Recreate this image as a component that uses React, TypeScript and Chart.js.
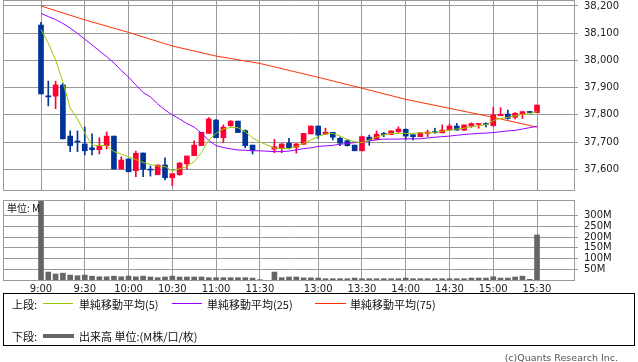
import React, { useEffect, useRef } from "react";
import { Chart, registerables } from "chart.js";

Chart.register(...registerables);

// ---- data ----
const times = [
  "9:00", "9:05", "9:10", "9:15", "9:20", "9:25", "9:30", "9:35", "9:40", "9:45", "9:50", "9:55",
  "10:00", "10:05", "10:10", "10:15", "10:20", "10:25", "10:30", "10:35", "10:40", "10:45", "10:50", "10:55",
  "11:00", "11:05", "11:10", "11:15", "11:20", "11:25", "11:30",
  "12:30", "12:35", "12:40", "12:45", "12:50", "12:55",
  "13:00", "13:05", "13:10", "13:15", "13:20", "13:25", "13:30", "13:35", "13:40", "13:45", "13:50", "13:55",
  "14:00", "14:05", "14:10", "14:15", "14:20", "14:25", "14:30", "14:35", "14:40", "14:45", "14:50", "14:55",
  "15:00", "15:05", "15:10", "15:15", "15:20", "15:25", "15:30",
];

const openP = [
  38130, 37870, 37869, 37910, 37722, 37704, 37693, 37679, 37672, 37687, 37722, 37601,
  37638, 37595, 37660, 37600, 37580, 37616, 37569, 37580, 37620, 37650, 37687, 37732,
  37781, 37716, 37760, 37777, 37742, 37689, null,
  37674, 37677, 37696, 37681, 37692, 37730,
  37759, 37729, 37736, 37714, 37705, 37689, 37668, 37718, 37710, 37730, 37728, 37738,
  37747, 37727, 37720, 37732, 37738, 37734, 37744, 37759, 37744, 37759, 37765, 37767,
  37760, 37797, 37803, 37791, 37802, 37811, 37808,
];
const closeP = [
  37877, 37866, 37910, 37712, 37687, 37700, 37668, 37672, 37687, 37722, 37601, 37634,
  37591, 37659, 37600, 37597, 37616, 37569, 37584, 37623, 37649, 37689, 37736, 37785,
  37716, 37755, 37777, 37735, 37687, 37670, null,
  37683, 37693, 37679, 37693, 37732, 37759,
  37726, 37736, 37718, 37696, 37687, 37668, 37720, 37708, 37729, 37728, 37741, 37748,
  37722, 37720, 37734, 37737, 37735, 37744, 37759, 37744, 37763, 37768, 37767, 37765,
  37800, 37802, 37787, 37806, 37812, 37809, 37836,
];
const highP = [
  38140, 37924, 37924, 37916, 37741, 37741, 37755, 37730, 37716, 37737, 37722, 37646,
  37638, 37667, 37660, 37612, 37616, 37642, 37584, 37625, 37649, 37705, 37736, 37790,
  37783, 37763, 37779, 37777, 37745, 37689, null,
  37710, 37695, 37714, 37695, 37732, 37759,
  37759, 37751, 37736, 37718, 37710, 37689, 37722, 37726, 37741, 37736, 37741, 37756,
  37749, 37727, 37736, 37744, 37751, 37763, 37766, 37769, 37763, 37771, 37767, 37771,
  37828, 37826, 37818, 37808, 37812, 37812, 37836,
];
const lowP = [
  37877, 37833, 37823, 37712, 37665, 37665, 37653, 37653, 37656, 37675, 37601, 37601,
  37591, 37573, 37573, 37575, 37580, 37561, 37540, 37578, 37601, 37650, 37687, 37732,
  37716, 37698, 37758, 37735, 37679, 37656, null,
  37661, 37661, 37675, 37659, 37692, 37730,
  37714, 37729, 37708, 37687, 37685, 37668, 37668, 37688, 37710, 37720, 37728, 37735,
  37708, 37708, 37720, 37720, 37732, 37734, 37744, 37744, 37742, 37754, 37751, 37756,
  37759, 37797, 37784, 37785, 37787, 37808, 37808,
];

const ma5 = [
  38114, 38063, 38002, 37921, 37825, 37785, 37733, 37689, 37687, 37687, 37665, 37656,
  37646, 37636, 37625, 37618, 37612, 37610, 37594, 37602, 37610, 37628, 37661, 37708,
  37732, 37748, 37754, 37753, 37738, 37716, 37701,
  37678, 37676, 37676, 37683, 37696, 37708,
  37720, 37730, 37732, 37722, 37710, 37701, 37698, 37708, 37718, 37727, 37732, 37732,
  37732, 37732, 37734, 37734, 37736, 37740, 37744, 37748, 37751, 37757, 37759, 37764,
  37779, 37787, 37791, 37796, 37802, 37804, 37812,
];
const ma25 = [
  38173, 38161, 38150, 38136, 38119, 38099, 38078, 38057, 38035, 38014, 37991, 37963,
  37939, 37910, 37882, 37866, 37840, 37818, 37800, 37785, 37768, 37755, 37733, 37706,
  37687, 37680, 37675, 37671, 37670, 37668, 37668,
  37665, 37665, 37667, 37671, 37676, 37679,
  37684, 37686, 37688, 37692, 37695, 37698, 37700, 37705, 37708, 37711, 37711, 37711,
  37712, 37712, 37712, 37715, 37718, 37720, 37722, 37725, 37728, 37730, 37732, 37733,
  37735, 37738, 37741, 37743, 37748, 37753, 37758,
];
const ma75Times = ["9:00", "9:30", "10:00", "10:30", "11:00", "11:30", "13:00", "13:30", "14:00", "14:30", "15:00", "15:30"];
const ma75 = [38200, 38149, 38103, 38053, 38016, 37989, 37938, 37898, 37857, 37824, 37791, 37755];

const volume = [
  380, 37, 28, 32, 23, 20, 23, 18, 15, 15, 18, 15,
  18, 15, 18, 14, 11, 14, 18, 14, 14, 14, 14, 11,
  11, 11, 11, 11, 11, 9, 1.5,
  37, 11, 14, 14, 10, 10,
  9, 6, 6, 6, 6, 9, 6, 6, 6, 6, 6, 6,
  9, 6, 6, 6, 6, 6, 6, 6, 6, 9, 9, 9,
  15, 9, 9, 14, 18, 3, 210,
];

const xTickTimes = ["9:00", "9:30", "10:00", "10:30", "11:00", "11:30", "13:00", "13:30", "14:00", "14:30", "15:00", "15:30"];
const priceTicks = [37600, 37700, 37800, 37900, 38000, 38100, 38200];
const volumeTicks = [50, 100, 150, 200, 250, 300];

// ---- styling ----
const UP = "#ff0033";
const DOWN = "#003399";
const GRID = "#999999";
const AXIS_FONT = "'DejaVu Sans', sans-serif";
const JP_FONT = "'Noto Sans CJK JP', 'DejaVu Sans', sans-serif";
const X_MIN = -5.21;
const X_MAX = 73.07;

function slotOf(t: string): number {
  const [h, m] = t.split(":").map(Number);
  const mins = h * 60 + m;
  return mins <= 690 ? (mins - 540) / 5 : 32 + (mins - 750) / 5;
}

function noPad(s: any) {
  s.paddingTop = 0;
  s.paddingBottom = 0;
  s.paddingLeft = 0;
  s.paddingRight = 0;
}

const framePlugin = {
  id: "frame",
  afterDraw(chart: any) {
    const { ctx, chartArea } = chart;
    const l = Math.round(chartArea.left);
    const r = Math.round(chartArea.right);
    const t = Math.round(chartArea.top);
    const b = Math.round(chartArea.bottom);
    ctx.save();
    ctx.strokeStyle = GRID;
    ctx.lineWidth = 1;
    ctx.strokeRect(l + 0.5, t + 0.5, r - l, b - t);
    ctx.restore();
  },
};

function xScale(showLabels: boolean) {
  return {
    type: "linear",
    min: X_MIN,
    max: X_MAX,
    offset: false,
    afterBuildTicks: (s: any) => {
      s.ticks = xTickTimes.map((t) => ({ value: slotOf(t) }));
    },
    afterFit: (s: any) => {
      s.height = showLabels ? 15 : 0;
      noPad(s);
    },
    ticks: {
      display: showLabels,
      autoSkip: false,
      maxRotation: 0,
      padding: 3,
      color: "#222",
      font: { family: AXIS_FONT, size: 10 },
      callback: (_v: any, i: number) => xTickTimes[i],
    },
    grid: { color: GRID, drawTicks: false, offset: false, lineWidth: 1 },
    border: { display: false },
  };
}

function yScale(min: number, max: number, ticks: number[], fmt: (v: number) => string) {
  return {
    type: "linear",
    position: "right",
    min,
    max,
    afterBuildTicks: (s: any) => {
      s.ticks = ticks.map((v) => ({ value: v }));
    },
    afterFit: (s: any) => {
      s.width = 64;
      noPad(s);
    },
    ticks: {
      autoSkip: false,
      padding: 6,
      color: "#222",
      font: { family: AXIS_FONT, size: 10 },
      callback: (v: any) => fmt(Number(v)),
    },
    grid: { color: GRID, tickLength: 4, drawTicks: true },
    border: { display: false },
  };
}

export default function App() {
  const topRef = useRef<HTMLCanvasElement>(null);
  const volRef = useRef<HTMLCanvasElement>(null);

  useEffect(() => {
    const idx = times.map((_, i) => i).filter((i) => openP[i] !== null);
    const candleColors = idx.map((i) => ((closeP[i] as number) >= (openP[i] as number) ? UP : DOWN));

    const top = new Chart(topRef.current as HTMLCanvasElement, {
      type: "bar",
      data: {
        datasets: [
          {
            type: "line",
            label: "MA5",
            data: times.map((t, i) => ({ x: slotOf(t), y: ma5[i] })),
            borderColor: "#99cc00",
            borderWidth: 1,
            pointRadius: 0,
            tension: 0,
            order: 0,
          } as any,
          {
            type: "line",
            label: "MA25",
            data: times.map((t, i) => ({ x: slotOf(t), y: ma25[i] })),
            borderColor: "#9900ff",
            borderWidth: 1,
            pointRadius: 0,
            tension: 0,
            order: 0,
          },
          {
            type: "line",
            label: "MA75",
            data: ma75Times.map((t, i) => ({ x: slotOf(t), y: ma75[i] })),
            borderColor: "#ff3300",
            borderWidth: 1,
            pointRadius: 0,
            tension: 0,
            order: 0,
          },
          {
            type: "bar",
            label: "wick",
            data: idx.map((i) => ({ x: slotOf(times[i]), y: [lowP[i], highP[i]] })),
            backgroundColor: candleColors,
            barThickness: 1,
            grouped: false,
            order: 2,
          } as any,
          {
            type: "bar",
            label: "body",
            data: idx.map((i) => ({ x: slotOf(times[i]), y: [openP[i], closeP[i]] })),
            backgroundColor: candleColors,
            barThickness: 5,
            minBarLength: 1,
            grouped: false,
            order: 1,
          } as any,
        ],
      },
      options: {
        animation: false,
        responsive: false,
        maintainAspectRatio: false,
        events: [],
        layout: { padding: { left: 3, top: 0, right: 0, bottom: 1 } },
        plugins: { legend: { display: false }, tooltip: { enabled: false } },
        scales: {
          x: xScale(false) as any,
          y: yScale(37524, 38222, priceTicks, (v) => v.toLocaleString("en-US")) as any,
        },
      },
      plugins: [framePlugin],
    });

    const vol = new Chart(volRef.current as HTMLCanvasElement, {
      type: "bar",
      data: {
        datasets: [
          {
            label: "出来高",
            data: times.map((t, i) => ({ x: slotOf(t), y: volume[i] })),
            backgroundColor: "#666666",
            barThickness: 5,
          },
        ],
      },
      options: {
        animation: false,
        responsive: false,
        maintainAspectRatio: false,
        events: [],
        layout: { padding: { left: 3, top: 5, right: 0, bottom: 0 } },
        plugins: { legend: { display: false }, tooltip: { enabled: false } },
        scales: {
          x: xScale(true) as any,
          y: yScale(0, 373, volumeTicks, (v) => `${v}M`) as any,
        },
      },
      plugins: [framePlugin],
    });

    return () => {
      top.destroy();
      vol.destroy();
    };
  }, []);

  const abs = (s: React.CSSProperties): React.CSSProperties => ({ position: "absolute", ...s });
  const jp: React.CSSProperties = {
    fontFamily: JP_FONT,
    fontSize: 11,
    lineHeight: "14px",
    color: "#111",
    whiteSpace: "nowrap",
  };

  return (
    <div style={abs({ left: 0, top: 0, width: 638, height: 362, background: "#fff", overflow: "hidden" })}>
      <canvas ref={topRef} width={638} height={191} style={abs({ left: 0, top: 0, width: 638, height: 191 })} />
      <canvas ref={volRef} width={638} height={100} style={abs({ left: 0, top: 195, width: 638, height: 100 })} />
      <div style={abs({ ...jp, fontSize: 10, left: 7, top: 201 })}>単位: M</div>

      <div style={abs({ left: 3, top: 293, width: 632, height: 53, border: "1px solid #000", boxSizing: "border-box" })} />
      <div style={abs({ ...jp, left: 12, top: 297 })}>上段:</div>
      <div style={abs({ left: 43, top: 303, width: 30, height: 1, background: "#99cc00" })} />
      <div style={abs({ ...jp, left: 79, top: 297 })}>単純移動平均(5)</div>
      <div style={abs({ left: 172, top: 303, width: 30, height: 1, background: "#9900ff" })} />
      <div style={abs({ ...jp, left: 207, top: 297 })}>単純移動平均(25)</div>
      <div style={abs({ left: 315, top: 303, width: 31, height: 1, background: "#ff3300" })} />
      <div style={abs({ ...jp, left: 350, top: 297 })}>単純移動平均(75)</div>

      <div style={abs({ ...jp, left: 12, top: 329 })}>下段:</div>
      <div style={abs({ left: 43, top: 334, width: 31, height: 4, background: "#666666" })} />
      <div style={abs({ ...jp, left: 79, top: 329 })}>出来高 単位:(M株/口/枚)</div>

      <div
        style={abs({
          right: 20,
          top: 351,
          fontFamily: AXIS_FONT,
          fontSize: 9.5,
          lineHeight: "14px",
          color: "#555",
          whiteSpace: "nowrap",
        })}
      >
        (c)Quants Research Inc.
      </div>
    </div>
  );
}
